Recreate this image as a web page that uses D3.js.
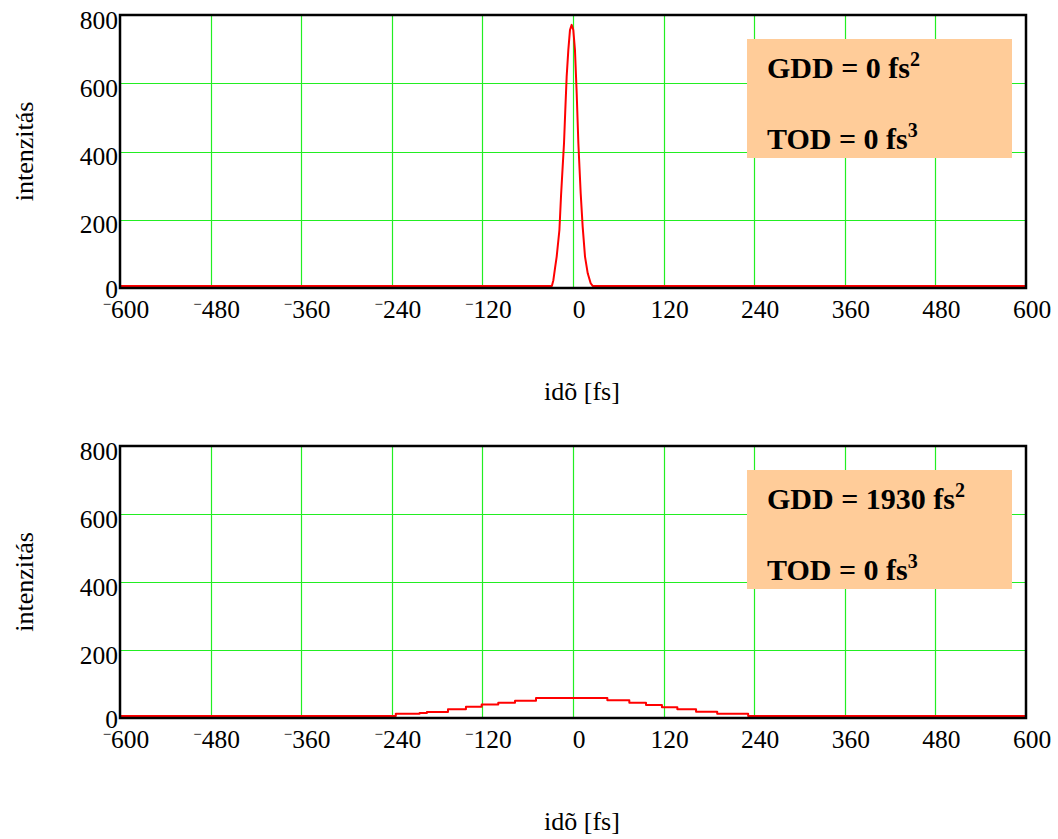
<!DOCTYPE html>
<html>
<head>
<meta charset="utf-8">
<script src="https://cdn.jsdelivr.net/npm/d3@7"></script>
<style>
  html, body { margin: 0; padding: 0; background: #fff; }
  svg { display: block; }
</style>
</head>
<body>
<svg id="chart" width="1058" height="839"></svg>
<script>
// ---- data ----
const timeTicks = [-600, -480, -360, -240, -120, 0, 120, 240, 360, 480, 600];
const intensityTicks = [0, 200, 400, 600, 800];
const xTitle = "idõ [fs]";
const yTitle = "intenzitás";

// Panel 1: GDD = 0, TOD = 0 (short pulse)
const pulse1Time = [-600, -28, -26, -23.8, -21.6, -18, -15.9, -13.7, -11.9, -10.2, -8.4, -6.2, -4, -1.8, 0.4, 2.6, 4.9, 7.1, 10.2, 12.8, 15.9, 19.5, 23.4, 26, 600];
const pulse1Intensity = [6, 6, 23, 58, 92, 170, 268, 355, 424, 522, 619, 697, 756, 771, 756, 697, 570, 424, 277, 180, 92, 43, 14, 6, 6];
const panel1Label = ["GDD = 0 fs", "2", "TOD = 0 fs", "3"];

// Panel 2: GDD = 1930, TOD = 0 (stretched pulse, staircase samples)
const pulse2Time = [-600, -234.7, -203.2, -193.5, -165.6, -141.8, -121, -99, -76.8, -49, 45.5, 74.6, 96.7, 117.8, 138.2, 163, 191, 232, 600];
const pulse2Intensity = [6, 12.5, 15, 18, 25.5, 33, 40, 45, 51, 59, 52, 45, 38, 31.4, 25.5, 18.3, 12.3, 6, 6];
const panel2Label = ["GDD = 1930 fs", "2", "TOD = 0 fs", "3"];

// ---- drawing ----
const svg = d3.select("#chart");
const fontFam = "'Liberation Serif', 'Times New Roman', serif";
const left = 120, right = 1026;

function panel(opts) {
  const { top, bottom, time, inten, curve, label } = opts;
  const x = d3.scaleLinear().domain([-600, 600]).range([left, right]);
  const y = d3.scaleLinear().domain([0, 800]).range([bottom, top]);
  const g = svg.append("g");

  // grid
  g.append("g").selectAll("line.v").data(timeTicks.filter(t => t > -600 && t < 600))
    .join("line")
    .attr("x1", d => Math.round(x(d)) + 0.5).attr("x2", d => Math.round(x(d)) + 0.5)
    .attr("y1", top).attr("y2", bottom)
    .attr("stroke", "#22ee22").attr("stroke-width", 1.2);
  g.append("g").selectAll("line.h").data(intensityTicks.filter(t => t > 0 && t < 800))
    .join("line")
    .attr("y1", d => Math.round(y(d)) + 0.5).attr("y2", d => Math.round(y(d)) + 0.5)
    .attr("x1", left).attr("x2", right)
    .attr("stroke", "#22ee22").attr("stroke-width", 1.2);

  // legend box
  const bx = 747, by = top + 24, bw = 265, bh = 119;
  g.append("rect").attr("x", bx).attr("y", by).attr("width", bw).attr("height", bh)
    .attr("fill", "#FFCC99");
  const lines = [[label[0], label[1], 39], [label[2], label[3], 110]];
  lines.forEach(([main, sup, off]) => {
    const t = g.append("text").attr("x", 767).attr("y", by + off)
      .attr("font-family", fontFam).attr("font-weight", "bold").attr("font-size", 30)
      .attr("fill", "#000");
    t.append("tspan").text(main);
    t.append("tspan").attr("dy", -12).attr("font-size", 20).text(sup);
  });

  // curve
  const pts = time.map((t, i) => [t, inten[i]]);
  g.append("path").datum(pts)
    .attr("fill", "none").attr("stroke", "#ff0000").attr("stroke-width", 2)
    .attr("stroke-linejoin", "round")
    .attr("d", d3.line().x(d => x(d[0])).y(d => y(d[1])).curve(curve));

  // frame
  g.append("rect").attr("x", left).attr("y", top).attr("width", right - left).attr("height", bottom - top)
    .attr("fill", "none").attr("stroke", "#000").attr("stroke-width", 2.5);

  // y tick labels
  g.append("g").selectAll("text").data(intensityTicks).join("text")
    .attr("x", 118).attr("y", d => y(d) + (d === 0 ? 10 : 13.5))
    .attr("text-anchor", "end").attr("font-family", fontFam).attr("font-size", 25.5)
    .text(d => d);

  // x tick labels
  const xl = g.append("g").selectAll("text").data(timeTicks).join("text")
    .attr("x", d => x(d) + 6).attr("y", bottom + 30)
    .attr("text-anchor", "middle").attr("font-family", fontFam).attr("font-size", 25.5);
  xl.each(function(d) {
    const t = d3.select(this);
    if (d < 0) {
      t.append("tspan").attr("dy", -9).attr("font-size", 15).text("\u2212");
      t.append("tspan").attr("dy", 9).text(String(Math.abs(d)));
    } else {
      t.text(String(d));
    }
  });

  // axis titles
  g.append("text").attr("x", 582).attr("y", bottom + 112)
    .attr("text-anchor", "middle").attr("font-family", fontFam).attr("font-size", 26)
    .text(xTitle);
  const cy = (top + bottom) / 2;
  g.append("text").attr("transform", `translate(33,${cy}) rotate(-90)`)
    .attr("text-anchor", "middle").attr("font-family", fontFam).attr("font-size", 26)
    .text(yTitle);
}

panel({ top: 15, bottom: 288, time: pulse1Time, inten: pulse1Intensity, curve: d3.curveLinear, label: panel1Label });
panel({ top: 446, bottom: 718, time: pulse2Time, inten: pulse2Intensity, curve: d3.curveStepAfter, label: panel2Label });
</script>
</body>
</html>
